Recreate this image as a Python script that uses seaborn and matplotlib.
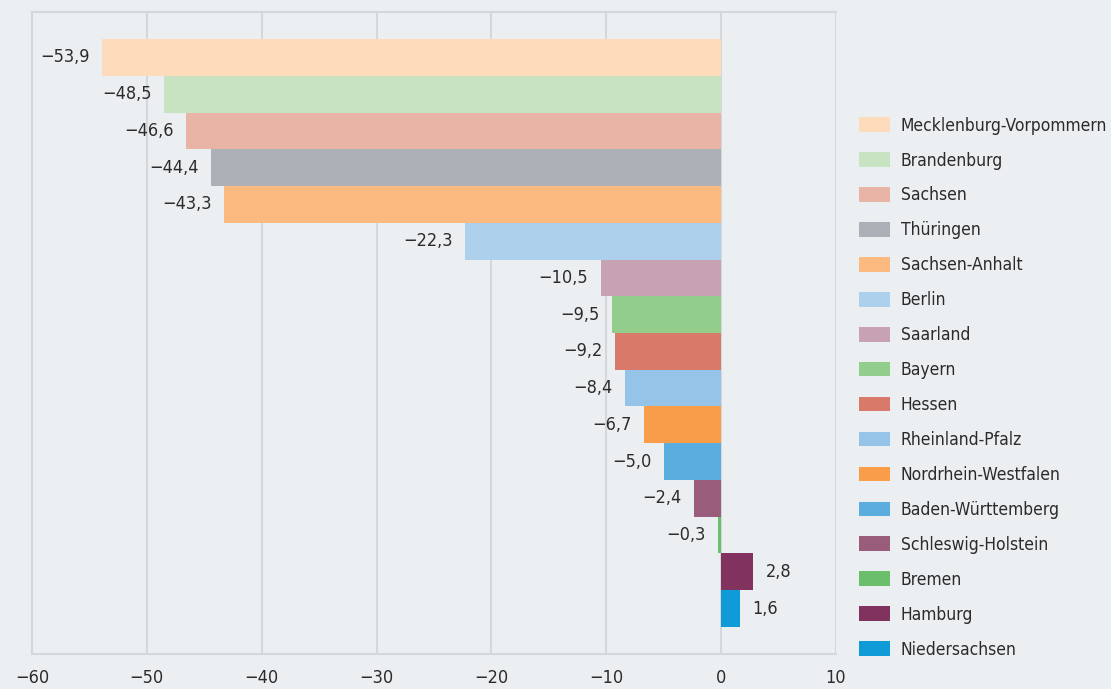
import matplotlib
matplotlib.use('Agg')
import matplotlib.pyplot as plt
import matplotlib.patches as mpatches
import pandas as pd
import seaborn as sns

STATES = [
    'Mecklenburg-Vorpommern', 'Brandenburg', 'Sachsen', 'Thüringen',
    'Sachsen-Anhalt', 'Berlin', 'Saarland', 'Bayern', 'Hessen',
    'Rheinland-Pfalz', 'Nordrhein-Westfalen', 'Baden-Württemberg',
    'Schleswig-Holstein', 'Bremen', 'Hamburg', 'Niedersachsen',
]
VALUES = [-53.9, -48.5, -46.6, -44.4, -43.3, -22.3, -10.5, -9.5, -9.2,
          -8.4, -6.7, -5.0, -2.4, -0.3, 2.8, 1.6]
COLORS = [
    '#FDDBBB', '#C8E3C2', '#E8B4A6', '#ADB0B7', '#FCBA80', '#ADD0EC',
    '#C6A2B3', '#93CD8C', '#D9796A', '#96C3E8', '#F99D48', '#5BACDF',
    '#9A5C7B', '#6CBF6A', '#82325E', '#0F9AD8',
]
X_TICKS = [-60, -50, -40, -30, -20, -10, 0, 10]

BG = '#ECEFF2'
GRID = '#D5D8DB'
TEXT = '#2B2B2B'

sns.set_style('white')
plt.rcParams.update({
    'font.family': ['DejaVu Sans'],
    'font.stretch': 'condensed',
    'axes.unicode_minus': True,
})

df = pd.DataFrame({'Land': STATES, 'Wert': VALUES})

fig = plt.figure(figsize=(11.11, 6.89), dpi=100, facecolor=BG)
ax = fig.add_axes([32 / 1111, 35 / 689, 804 / 1111, 642 / 689], facecolor=BG)

sns.barplot(data=df, x='Wert', y='Land', hue='Land', palette=COLORS,
            order=STATES, hue_order=STATES, width=1, dodge=False,
            legend=False, saturation=1, ax=ax, orient='h')

for bar in ax.patches:
    bar.set_edgecolor('none')

for cont in ax.containers:
    labels = []
    for bar in cont:
        v = bar.get_width()
        labels.append(f'{v:.1f}'.replace('.', ',').replace('-', '\u2212'))
    ax.bar_label(cont, labels=labels, padding=9, fontsize=13, color=TEXT)

ax.set_xlim(-60, 10)
ax.set_ylim(16.235, -1.235)
ax.set_xticks(X_TICKS)
ax.set_xticklabels([str(t).replace('-', '\u2212') for t in X_TICKS])
ax.set_yticks([])
ax.set_xlabel('')
ax.set_ylabel('')
ax.tick_params(axis='x', length=5, width=1.5, color=GRID, labelsize=13,
               labelcolor=TEXT, pad=6)
ax.grid(axis='x', color=GRID, linewidth=1.5)
ax.set_axisbelow(True)
for side in ['left', 'top', 'bottom']:
    ax.spines[side].set_color(GRID)
    ax.spines[side].set_linewidth(1.5)
ax.spines['right'].set_visible(False)

handles = [mpatches.Patch(facecolor=c, edgecolor='none', label=s)
           for s, c in zip(STATES, COLORS)]
fig.legend(handles=handles, loc='upper left',
           bbox_to_anchor=(843 / 1111, 1 - 101 / 689),
           frameon=False, fontsize=12.5, handlelength=1.79, handleheight=0.92,
           labelspacing=0.975, handletextpad=0.63, labelcolor=TEXT)

fig.savefig('out.png', dpi=100, facecolor=BG)
